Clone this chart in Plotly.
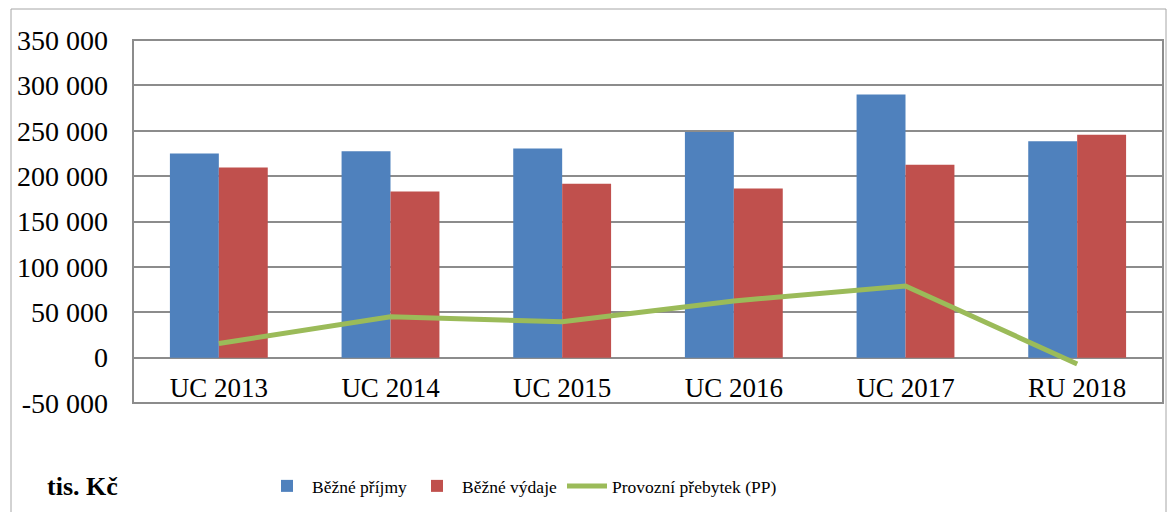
import plotly.graph_objects as go

categories = ["UC 2013", "UC 2014", "UC 2015", "UC 2016", "UC 2017", "RU 2018"]
prijmy = [225000, 227500, 230500, 248500, 290000, 238500]
vydaje = [209500, 183000, 191500, 186500, 212500, 245500]
prebytek = [15500, 45000, 39500, 62500, 79000, -7000]
y_ticks = [-50000, 0, 50000, 100000, 150000, 200000, 250000, 300000, 350000]
y_labels = ["-50 000", "0", "50 000", "100 000", "150 000", "200 000", "250 000", "300 000", "350 000"]

W, H = 1167, 512
ml, mr, mt, mb = 133, 4, 40, 109
pw, ph = W - ml - mr, H - mt - mb

def px(p):
    return (p - ml) / pw

def py(p):
    return (H - mb - p) / ph

serif = "Liberation Serif"
grid = "#8c8c8c"

fig = go.Figure()
fig.add_trace(go.Bar(x=categories, y=prijmy, name="Běžné příjmy",
                     marker=dict(color="#4f81bd", line=dict(width=0))))
fig.add_trace(go.Bar(x=categories, y=vydaje, name="Běžné výdaje",
                     marker=dict(color="#c0504d", line=dict(width=0))))
fig.add_trace(go.Scatter(x=categories, y=prebytek, name="Provozní přebytek (PP)",
                         mode="lines", line=dict(color="#9bbb59", width=5)))

zero_pos = (0 - (-50000)) / 400000

fig.update_layout(
    width=W, height=H,
    margin=dict(l=ml, r=mr, t=mt, b=mb),
    paper_bgcolor="white", plot_bgcolor="white",
    barmode="group", bargap=0.43, bargroupgap=0,
    font=dict(family=serif, color="black"),
    showlegend=True,
    legend=dict(orientation="h", x=px(262), y=py(486), xanchor="left", yanchor="middle",
                font=dict(family=serif, size=17.5, color="black"),
                itemwidth=40, traceorder="normal", bgcolor="rgba(0,0,0,0)"),
    xaxis=dict(anchor="free", position=zero_pos, showline=False, showgrid=False,
               ticks="", tickfont=dict(family=serif, size=27), ticklabelstandoff=11,
               zeroline=False),
    yaxis=dict(range=[-50000, 350000], tickvals=y_ticks, ticktext=y_labels,
               showgrid=True, gridcolor=grid, gridwidth=1.5,
               zeroline=True, zerolinecolor=grid, zerolinewidth=1.5,
               showline=False, ticks="", tickfont=dict(family=serif, size=28),
               ticklabelstandoff=24),
    shapes=[
        dict(type="rect", xref="paper", yref="paper", x0=0, x1=1, y0=0, y1=1,
             line=dict(color=grid, width=2), fillcolor="rgba(0,0,0,0)", layer="above"),
        dict(type="rect", xref="paper", yref="paper", x0=px(11), x1=px(1166),
             y0=py(9), y1=py(530), line=dict(color="#a6a6a6", width=1),
             fillcolor="rgba(0,0,0,0)"),
    ],
    annotations=[
        dict(text="<b>tis. Kč</b>", xref="paper", yref="paper", x=px(45), y=py(486),
             xanchor="left", yanchor="middle", showarrow=False,
             font=dict(family=serif, size=26, color="black")),
    ],
)

fig.write_html("out.html", config={"displayModeBar": False},
               post_script="document.body.style.margin='0';")
